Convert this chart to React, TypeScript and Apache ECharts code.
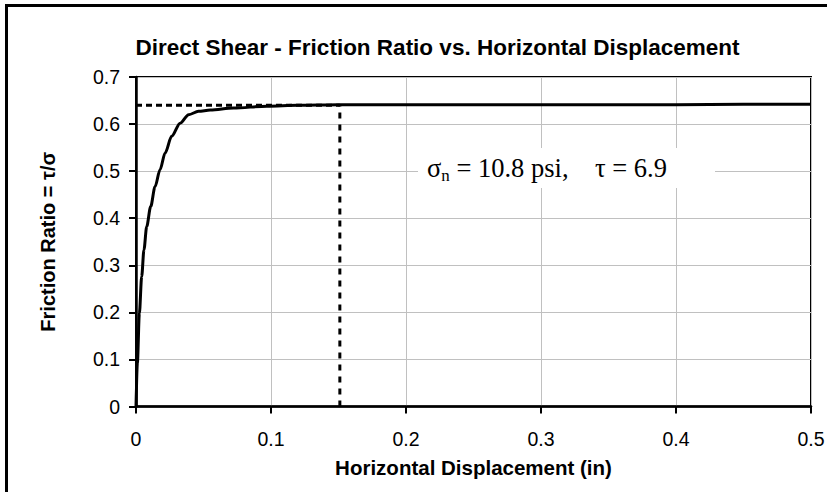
import React, { useEffect, useRef } from "react";
import * as echarts from "echarts";

const titleText = "Direct Shear - Friction Ratio vs. Horizontal Displacement";
const xAxisTitle = "Horizontal Displacement (in)";
const yAxisTitle = "Friction Ratio = τ/σ";

const dispX = [0, 0.001, 0.0025, 0.0042, 0.0059, 0.0079, 0.0109, 0.0141, 0.0178, 0.0215, 0.0264, 0.0327, 0.039, 0.0463, 0.055, 0.0722, 0.097, 0.12, 0.15, 0.2, 0.25, 0.3, 0.35, 0.4, 0.45, 0.5];
const ratioY = [0, 0.092, 0.198, 0.276, 0.333, 0.382, 0.425, 0.467, 0.503, 0.538, 0.574, 0.602, 0.62, 0.627, 0.63, 0.634, 0.638, 0.64, 0.641, 0.641, 0.641, 0.641, 0.641, 0.641, 0.642, 0.642];

const peakRatio = 0.64;
const peakDisp = 0.151;

const xMin = 0, xMax = 0.5, xStep = 0.1;
const yMin = 0, yMax = 0.7, yStep = 0.1;

const FONT = "'Liberation Sans', Arial, sans-serif";
const SERIF = "'Liberation Serif', 'Times New Roman', serif";

export default function App() {
  const ref = useRef<HTMLDivElement>(null);
  useEffect(() => {
    if (!ref.current) return;
    const chart = echarts.init(ref.current, undefined, { renderer: "svg" });
    const curve = dispX.map((x, i) => [x, ratioY[i]]);
    chart.setOption({
      animation: false,
      backgroundColor: "#fff",
      grid: {
        left: 136, right: 16, top: 77, bottom: 85.5,
        containLabel: false, outerBoundsMode: "none",
        show: true, borderColor: "#000", borderWidth: 2, backgroundColor: "transparent",
      },
      xAxis: {
        type: "value", min: xMin, max: xMax, interval: xStep,
        name: xAxisTitle, nameLocation: "middle", nameGap: 50,
        nameTextStyle: { fontFamily: FONT, fontSize: 20.5, fontWeight: "bold", color: "#000" },
        axisLine: { show: true, lineStyle: { color: "#000", width: 2.5 } },
        axisTick: { show: true, length: 7, lineStyle: { color: "#000", width: 2 } },
        axisLabel: { fontFamily: FONT, fontSize: 19.5, color: "#000", margin: 22 },
        splitLine: { show: true, lineStyle: { color: "#c0c0c0", width: 1 } },
      },
      yAxis: {
        type: "value", min: yMin, max: yMax, interval: yStep,
        name: yAxisTitle, nameLocation: "middle", nameGap: 78,
        nameTextStyle: { fontFamily: FONT, fontSize: 20, fontWeight: "bold", color: "#000" },
        axisLine: { show: true, lineStyle: { color: "#000", width: 2.5 } },
        axisTick: { show: true, length: 7, lineStyle: { color: "#000", width: 2 } },
        axisLabel: { fontFamily: FONT, fontSize: 19.5, color: "#000", margin: 16 },
        splitLine: { show: true, lineStyle: { color: "#c0c0c0", width: 1 } },
      },
      series: [
        {
          type: "line", data: [[xMin, peakRatio], [peakDisp, peakRatio]],
          symbol: "none", lineStyle: { color: "#000", width: 3, type: [6, 4] }, z: 2,
        },
        {
          type: "line", data: [[peakDisp, yMin], [peakDisp, peakRatio]],
          symbol: "none", lineStyle: { color: "#000", width: 3, type: [6, 6] }, z: 2,
        },
        {
          type: "line", data: curve, symbol: "none", smooth: 0.3, smoothMonotone: "x",
          lineStyle: { color: "#000", width: 3 }, z: 3,
        },
      ],
      graphic: [
        {
          type: "rect", z: 10,
          shape: { x: 6.5, y: 5.5, width: 900, height: 600 },
          style: { fill: "none", stroke: "#000", lineWidth: 3 },
        },
        {
          type: "text", z: 10, x: 437.5, y: 47,
          style: {
            text: titleText, textAlign: "center", textVerticalAlign: "middle",
            fontFamily: FONT, fontSize: 22.5, fontWeight: "bold", fill: "#000",
          },
        },
        {
          type: "rect", z: 10,
          shape: { x: 418, y: 148, width: 297, height: 40 },
          style: { fill: "#fff", stroke: "none" },
        },
        {
          type: "text", z: 11, x: 427, y: 168,
          style: {
            text: "{m|σ}{s|n}{m| = 10.8 psi,    τ = 6.9}",
            textAlign: "left", textVerticalAlign: "middle",
            rich: {
              m: { fontFamily: SERIF, fontSize: 26.5, lineHeight: 32, fill: "#000" },
              s: { fontFamily: SERIF, fontSize: 17, lineHeight: 19, verticalAlign: "bottom", fill: "#000" },
            },
          },
        },
      ],
    });
    return () => chart.dispose();
  }, []);
  return <div ref={ref} style={{ position: "fixed", left: 0, top: 0, width: 827, height: 492 }} />;
}
